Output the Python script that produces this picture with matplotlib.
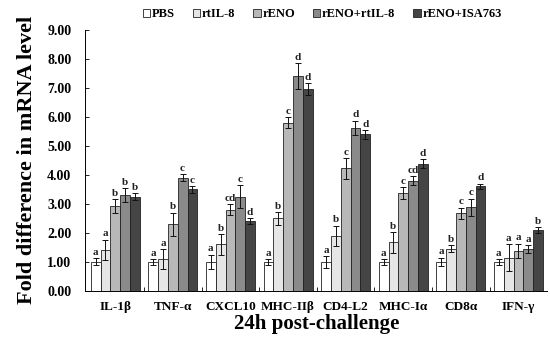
import numpy as np
import matplotlib as mpl
mpl.use("Agg")
import matplotlib.pyplot as plt

plt.rcParams["font.family"] = ["Liberation Serif", "DejaVu Serif"]
plt.rcParams["font.weight"] = "bold"

genes = ["IL-1β", "TNF-α", "CXCL10", "MHC-IIβ", "CD4-L2", "MHC-Iα", "CD8α", "IFN-γ"]
groups = ["PBS", "rtIL-8", "rENO", "rENO+rtIL-8", "rENO+ISA763"]
colors = ["#ffffff", "#e6e6e6", "#b8b8b8", "#8a8a8a", "#454545"]

pbs = [1.00, 1.00, 1.00, 1.00, 1.00, 1.00, 1.00, 1.00]
rtil8 = [1.42, 1.10, 1.60, 2.50, 1.90, 1.67, 1.46, 1.15]
reno = [2.92, 2.30, 2.80, 5.80, 4.22, 3.38, 2.67, 1.38]
reno_il8 = [3.30, 3.90, 3.25, 7.40, 5.62, 3.80, 2.88, 1.44]
reno_isa = [3.25, 3.50, 2.40, 6.95, 5.40, 4.38, 3.60, 2.10]

pbs_err = [0.12, 0.10, 0.25, 0.10, 0.20, 0.10, 0.15, 0.10]
rtil8_err = [0.35, 0.35, 0.35, 0.22, 0.35, 0.35, 0.12, 0.45]
reno_err = [0.25, 0.40, 0.20, 0.20, 0.35, 0.20, 0.20, 0.25]
reno_il8_err = [0.25, 0.12, 0.40, 0.45, 0.25, 0.15, 0.30, 0.15]
reno_isa_err = [0.12, 0.12, 0.10, 0.20, 0.15, 0.15, 0.10, 0.10]

pbs_sig = ["a"] * 8
rtil8_sig = ["a", "a", "b", "b", "b", "b", "b", "a"]
reno_sig = ["b", "b", "cd", "c", "c", "c", "c", "a"]
reno_il8_sig = ["b", "c", "c", "d", "d", "cd", "c", "a"]
reno_isa_sig = ["b", "c", "d", "d", "d", "d", "d", "b"]

values = [pbs, rtil8, reno, reno_il8, reno_isa]
errors = [pbs_err, rtil8_err, reno_err, reno_il8_err, reno_isa_err]
sigs = [pbs_sig, rtil8_sig, reno_sig, reno_il8_sig, reno_isa_sig]

fig = plt.figure(figsize=(5.5, 3.43), dpi=100)
ax = fig.add_axes([0.155, 0.152, 0.84, 0.761])

x = np.arange(len(genes))
w = 0.17
for k, (vals, errs, sg) in enumerate(zip(values, errors, sigs)):
    pos = x + (k - 2) * w
    ax.bar(pos, vals, w, color=colors[k], edgecolor="#222222", linewidth=0.6,
           label=groups[k], zorder=2)
    ax.errorbar(pos, vals, yerr=errs, fmt="none", ecolor="#111111",
                elinewidth=0.7, capsize=2.2, capthick=0.7, zorder=3)
    for p, v, e, s in zip(pos, vals, errs, sg):
        ax.text(p, v + e + 0.04, s, ha="center", va="bottom", fontsize=8,
                fontweight="bold", color="#222222")

ax.set_xlim(-0.52, 7.5)
ax.set_ylim(0, 9)
ax.set_yticks(np.arange(0, 9.01, 1))
ax.set_yticklabels([f"{v:.2f}" for v in np.arange(0, 9.01, 1)], fontsize=10)
ax.set_xticks(x)
ax.set_xticklabels(genes, fontsize=9.5)
ax.set_xticks(x[:-1] + 0.5, minor=True)
ax.tick_params(axis="x", which="major", length=0, pad=7)
ax.tick_params(axis="x", which="minor", direction="in", length=3, width=0.6)
ax.tick_params(axis="y", direction="in", length=3, width=0.6, pad=10)
for s in ["top", "right"]:
    ax.spines[s].set_visible(False)
for s in ["left", "bottom"]:
    ax.spines[s].set_linewidth(0.7)

ax.set_ylabel("Fold difference in mRNA level", fontsize=16, fontweight="bold",
              labelpad=7)
ax.set_xlabel("24h post-challenge", fontsize=15, fontweight="bold", labelpad=1)

fig.legend(loc="upper left", bbox_to_anchor=(0.245, 1.0), ncol=5, frameon=False,
           fontsize=9, handlelength=0.6, handleheight=0.6, handletextpad=0.15,
           columnspacing=1.4, borderaxespad=0.25)

fig.savefig("out.png", dpi=100)
